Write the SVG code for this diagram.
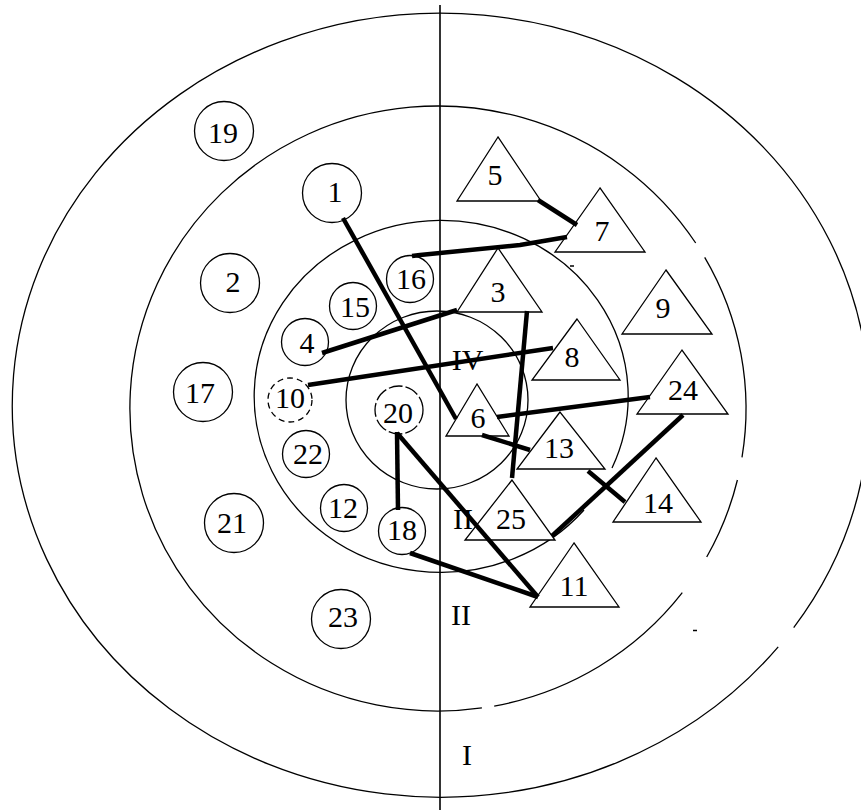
<svg xmlns="http://www.w3.org/2000/svg" width="861" height="810" viewBox="0 0 861 810">
<style>
.ring{fill:none;stroke:#000;stroke-width:1.3}
.axis{stroke:#000;stroke-width:1.6}
.nd{fill:#fff;stroke:#000;stroke-width:1.3}
.tri{fill:#fff;stroke:#000;stroke-width:1.3;stroke-linejoin:miter}
.lb{font-family:"Liberation Serif","Times New Roman",serif;font-size:30px;fill:#000;text-anchor:middle}
.cn{fill:none;stroke:#000;stroke-width:4.5;stroke-linecap:butt;stroke-linejoin:round}
.mk{stroke:#000;stroke-width:1.5}
</style>
<rect width="861" height="810" fill="#fff"/>
<g id="rings">
<path class="ring" d="M778.2,646.9 A428.5,392 0 1 1 793.7,627.6"/>
<path class="ring" d="M704.7,257.3 A308,302.5 0 0 1 742,457.4"/>
<path class="ring" d="M737.4,480 A308,302.5 0 0 1 706.7,557"/>
<path class="ring" d="M682.3,592.7 A308,302.5 0 0 1 494.2,706.1"/>
<path class="ring" d="M481.9,707.9 A308,302.5 0 1 1 695.7,243"/>
<path class="ring" d="M584,510 A187,176 0 1 1 612,468"/>
<ellipse class="ring" cx="437" cy="400" rx="91" ry="89"/>
<line class="axis" x1="440" y1="5" x2="440" y2="810"/>
<line class="mk" x1="570" y1="266" x2="574" y2="266"/>
<line class="mk" x1="693" y1="630.5" x2="697" y2="630.5"/>
</g>
<g id="zone-labels">
<text class="lb" x="467.5" y="370">IV</text>
<text class="lb" x="463" y="529">II</text>
<text class="lb" x="461" y="625">II</text>
<text class="lb" x="467" y="765">I</text>
</g>
<g id="n19"><circle class="nd" cx="224" cy="131" r="29.5"/><text class="lb" x="223" y="143">19</text></g>
<g id="n1"><circle class="nd" cx="332" cy="193" r="29.5"/><text class="lb" x="335" y="202">1</text></g>
<g id="n2"><circle class="nd" cx="230" cy="283" r="29.5"/><text class="lb" x="233" y="292">2</text></g>
<g id="n16"><circle class="nd" cx="410" cy="279" r="23.5"/><text class="lb" x="411" y="289">16</text></g>
<g id="n15"><circle class="nd" cx="353" cy="306" r="23.5"/><text class="lb" x="355" y="317">15</text></g>
<g id="n4"><circle class="nd" cx="305" cy="342" r="23.5"/><text class="lb" x="307" y="353">4</text></g>
<g id="n17"><circle class="nd" cx="203" cy="392" r="29.5"/><text class="lb" x="200" y="403">17</text></g>
<g id="n10"><circle class="nd" cx="290" cy="400" r="22" stroke-dasharray="6 4"/><text class="lb" x="290" y="408">10</text></g>
<g id="n20"><circle class="nd" cx="399" cy="410" r="24" stroke-dasharray="14 3"/><text class="lb" x="398" y="423">20</text></g>
<g id="n22"><circle class="nd" cx="306" cy="454" r="23.5"/><text class="lb" x="308" y="464">22</text></g>
<g id="n12"><circle class="nd" cx="344" cy="508" r="23.5"/><text class="lb" x="343" y="518">12</text></g>
<g id="n21"><circle class="nd" cx="234" cy="523" r="29.5"/><text class="lb" x="232" y="533">21</text></g>
<g id="n18"><circle class="nd" cx="402" cy="531" r="23.5"/><text class="lb" x="402" y="540">18</text></g>
<g id="n23"><circle class="nd" cx="341" cy="619" r="29.5"/><text class="lb" x="343" y="627">23</text></g>
<g id="n5"><polygon class="tri" points="498,137 457,201 541,201"/><text class="lb" x="495" y="185">5</text></g>
<g id="n7"><polygon class="tri" points="600,188 555,252 645,252"/><text class="lb" x="602" y="241">7</text></g>
<g id="n3"><polygon class="tri" points="498,248 457,312 542,312"/><text class="lb" x="498" y="302">3</text></g>
<g id="n9"><polygon class="tri" points="666,270 622,334 712,334"/><text class="lb" x="663" y="318">9</text></g>
<g id="n8"><polygon class="tri" points="577,319 532,380 620,380"/><text class="lb" x="572" y="367">8</text></g>
<g id="n24"><polygon class="tri" points="682,350 637,414 728,414"/><text class="lb" x="683" y="400">24</text></g>
<g id="n6"><polygon class="tri" points="477,384 446,436 509,436"/><text class="lb" x="478" y="428">6</text></g>
<g id="n13"><polygon class="tri" points="560,412 517,469 605,469"/><text class="lb" x="559" y="458">13</text></g>
<g id="n14"><polygon class="tri" points="656,458 613,522 701,522"/><text class="lb" x="658" y="513">14</text></g>
<g id="n25"><polygon class="tri" points="512,480 465,540 555,540"/><text class="lb" x="511" y="529">25</text></g>
<g id="n11"><polygon class="tri" points="574,543 530,607 619,607"/><text class="lb" x="574" y="596">11</text></g>
<g id="connectors">
<path class="cn" d="M538,200 L577,225"/>
<path class="cn" d="M567,237 L520,245 L420,255 L412,256"/>
<path class="cn" d="M343,218 L456,419"/>
<path class="cn" d="M322,353 L457,310"/>
<path class="cn" d="M308,385 L553,348"/>
<path class="cn" d="M527,311 L512,478"/>
<path class="cn" d="M497,417 L650,397"/>
<path class="cn" d="M482,435 L530,450"/>
<path class="cn" d="M588,471 L625,502"/>
<path class="cn" d="M552,536 L683,415"/>
<path class="cn" d="M397,432 L398,510"/>
<path class="cn" d="M397,433 L538,597"/>
<path class="cn" d="M410,553 L538,597"/>
</g>
</svg>
